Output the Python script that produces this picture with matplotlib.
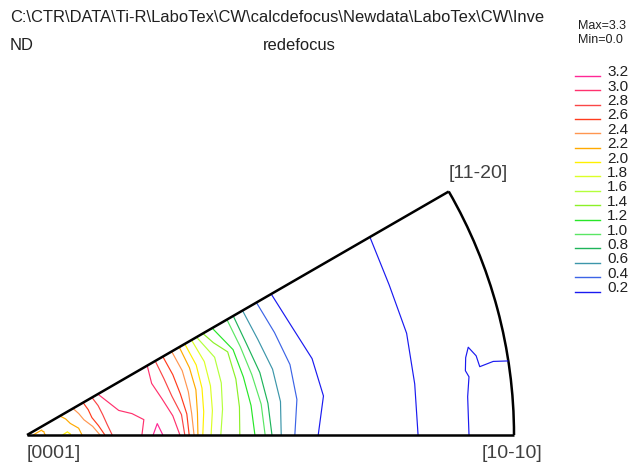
import numpy as np
import matplotlib
matplotlib.use('Agg')
import matplotlib.pyplot as plt
import matplotlib.tri as mtri
from matplotlib.patches import Arc
from matplotlib.lines import Line2D

plt.rcParams['font.family'] = ['Liberation Sans', 'DejaVu Sans']

W, H = 641, 466
ORIGIN_PX = (27, 435)
RADIUS_PX = 487

###########################
# Data
###########################

LEVELS = [0.2, 0.4, 0.6, 0.8, 1.0, 1.2, 1.4, 1.6, 1.8, 2.0, 2.2, 2.4, 2.6, 2.8, 3.0, 3.2]
LEVEL_COLORS = ['#1a1af0', '#3c64e6', '#3c96aa', '#1eb45a', '#5ae664', '#28e628',
                '#8cf028', '#b4ff3c', '#dcff28', '#fff000', '#ffaa00', '#ff9650',
                '#ff3c1e', '#fa4646', '#ff326e', '#ff2896']

# radius in % of the pole figure radius, value = intensity, along rays from [0001]
RAY_0_R = [0, 2.5, 5.1, 8.4, 11.3, 15.0, 16.0, 17.5, 20.5, 23.6,
           25.9, 26.9, 27.9, 31.4, 32.4, 33.3, 34.3, 35.1, 36.1, 37.8,
           39.8, 43.7, 46.8, 48.9, 50.3, 52.2, 55.0, 59.8, 69.8, 80.3,
           85.2, 88.3, 92.4, 95.5, 100]
RAY_0_V = [2.1, 2.3, 2.1, 1.95, 2.2, 2.4, 2.6, 2.8, 2.9, 3.0,
           3.2, 3.3, 3.2, 3.0, 2.8, 2.6, 2.4, 2.2, 2.0, 1.8,
           1.6, 1.4, 1.2, 1.0, 0.8, 0.6, 0.4, 0.2, 0.1, 0.2,
           0.3, 0.26, 0.16, 0.12, 0.1]

RAY_7_R = [4.1, 10.7, 13.6, 14.8, 16.6, 20.5, 24.2, 26.9, 30.2, 32.0,
           33.1, 34.1, 35.3, 36.6, 38.4, 40.5, 44.0, 46.4, 48.5, 49.9,
           52.5, 55.9, 61.4, 70.8, 80.3, 86.2, 90.3, 93.4, 100]
RAY_7_V = [2.15, 2.2, 2.4, 2.6, 2.8, 2.9, 3.0, 3.15, 3.0, 2.8,
           2.6, 2.4, 2.2, 2.0, 1.8, 1.6, 1.4, 1.2, 1.0, 0.8,
           0.6, 0.4, 0.2, 0.1, 0.2, 0.27, 0.22, 0.17, 0.14]

RAY_10_R = [86.2, 91.0, 92.4, 94.9, 100]
RAY_10_V = [0.3, 0.22, 0.16, 0.24, 0.26]

RAY_12_R = [86.2, 92.4, 100]
RAY_12_V = [0.3, 0.24, 0.28]

RAY_15_R = [4.1, 9.2, 12.1, 13.8, 16.1, 19.5, 23.6, 28.7, 30.8, 32.6,
            34.3, 35.9, 37.2, 39.0, 41.3, 44.4, 46.0, 47.8, 49.5, 52.2,
            55.9, 60.6, 69.8, 80.7, 90.3, 100]
RAY_15_V = [2.15, 2.2, 2.4, 2.6, 2.8, 3.0, 3.1, 3.0, 2.8, 2.6,
            2.4, 2.2, 2.0, 1.8, 1.6, 1.4, 1.2, 1.0, 0.8, 0.6,
            0.4, 0.2, 0.1, 0.2, 0.3, 0.3]

RAY_22_R = [4.1, 8.6, 11.5, 13.6, 15.8, 17.9, 22.6, 27.7, 30.4, 32.4,
            34.5, 36.1, 37.6, 39.4, 41.7, 44.6, 45.8, 47.4, 48.8, 51.3,
            55.0, 58.7, 69.8, 80.5, 90.3, 100]
RAY_22_V = [2.1, 2.2, 2.4, 2.6, 2.8, 3.0, 3.1, 3.0, 2.8, 2.6,
            2.4, 2.2, 2.0, 1.8, 1.6, 1.4, 1.2, 1.0, 0.8, 0.6,
            0.4, 0.2, 0.1, 0.2, 0.28, 0.3]

RAY_30_R = [4.1, 7.8, 10.9, 13.3, 15.4, 16.8, 22.6, 28.5, 30.4, 32.2,
            34.3, 36.1, 37.4, 39.0, 40.2, 41.7, 43.9, 47.4, 48.9, 51.1,
            54.4, 57.9, 69.8, 81.3, 90.3, 100]
RAY_30_V = [2.1, 2.2, 2.4, 2.6, 2.8, 3.0, 3.1, 3.0, 2.8, 2.6,
            2.4, 2.2, 2.0, 1.8, 1.6, 1.4, 1.2, 1.0, 0.8, 0.6,
            0.4, 0.2, 0.1, 0.2, 0.28, 0.3]

RAYS = [(0, RAY_0_R, RAY_0_V), (7.5, RAY_7_R, RAY_7_V), (10, RAY_10_R, RAY_10_V),
        (12.5, RAY_12_R, RAY_12_V), (15, RAY_15_R, RAY_15_V),
        (22.5, RAY_22_R, RAY_22_V), (30, RAY_30_R, RAY_30_V)]


def px(x, y):
    return x / W, 1 - y / H

def ray_points(angle, radii, values):
    a = np.radians(angle)
    r = np.array(radii) / 100.0
    return r * np.cos(a), r * np.sin(a), np.array(values)


###########################
# Plot
###########################

fig = plt.figure(figsize=(W / 100, H / 100), dpi=100)
ax = fig.add_axes([0, 0, 1, 1])
ox, oy = ORIGIN_PX
ax.set_xlim(-ox / RADIUS_PX, (W - ox) / RADIUS_PX)
ax.set_ylim(-(H - oy) / RADIUS_PX, oy / RADIUS_PX)
ax.axis('off')

xs, ys, vs = [], [], []
for ang, rr, vv in RAYS:
    x, y, v = ray_points(ang, rr, vv)
    xs.append(x)
    ys.append(y)
    vs.append(v)
xs, ys, vs = np.concatenate(xs), np.concatenate(ys), np.concatenate(vs)

tri = mtri.Triangulation(xs, ys)
ax.tricontour(tri, vs, levels=LEVELS, colors=LEVEL_COLORS, linewidths=0.85)

# sector outline
c30 = np.cos(np.radians(30))
s30 = np.sin(np.radians(30))
ax.plot([0, 1], [0, 0], color='black', lw=1.8, solid_capstyle='butt')
ax.plot([0, c30], [0, s30], color='black', lw=1.8, solid_capstyle='butt')
ax.add_patch(Arc((0, 0), 2, 2, theta1=0, theta2=30, color='black', lw=1.8))

# corner labels
lab_color = '#404040'
fig.text(*px(27, 453), '[0001]', fontsize=14, color=lab_color, ha='left', va='center')
fig.text(*px(482, 453), '[10-10]', fontsize=14, color=lab_color, ha='left', va='center')
fig.text(*px(478, 174), '[11-20]', fontsize=14, color=lab_color, ha='center', va='center')

# header
fig.text(*px(10, 18), r'C:\CTR\DATA\Ti-R\LaboTex\CW\calcdefocus\Newdata\LaboTex\CW\Inve',
         fontsize=11.9, color='#202020', ha='left', va='center')
fig.text(*px(10, 45), 'ND', fontsize=11.9, color='#202020', ha='left', va='center')
fig.text(*px(299, 45), 'redefocus', fontsize=11.9, color='#202020', ha='center', va='center')
fig.text(*px(578, 26), 'Max=3.3', fontsize=9, color='#202020', ha='left', va='center')
fig.text(*px(578, 40), 'Min=0.0', fontsize=9, color='#202020', ha='left', va='center')

# level legend
for i, (lvl, col) in enumerate(zip(LEVELS[::-1], LEVEL_COLORS[::-1])):
    yy = 75.7 + i * 14.4
    x0, y0 = px(575, yy)
    x1, _ = px(600, yy)
    fig.add_artist(Line2D([x0, x1], [y0, y0], color=col, lw=1.0))
    fig.text(*px(607, yy + 0.5), '{:.1f}'.format(lvl), fontsize=11, color='#202020',
             ha='left', va='baseline')

fig.savefig('out.png', dpi=100)
